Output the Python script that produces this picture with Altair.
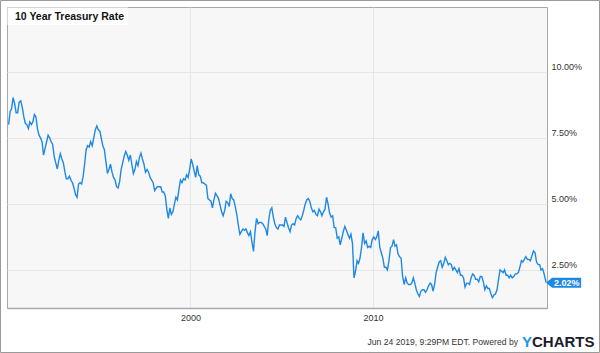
import altair as alt
import pandas as pd

# Monthly 10-year Treasury yields (%), Jan..Dec of each year
y1990 = [8.00, 8.50, 8.60, 9.02, 8.80, 8.45, 8.45, 8.85, 8.90, 8.65, 8.30, 8.05]
y1991 = [8.00, 7.85, 8.10, 8.00, 8.10, 8.38, 8.30, 7.85, 7.60, 7.50, 7.35, 6.85]
y1992 = [7.10, 7.35, 7.60, 7.50, 7.35, 7.25, 6.80, 6.55, 6.32, 6.65, 6.90, 6.70]
y1993 = [6.55, 6.20, 5.95, 5.95, 6.05, 5.90, 5.80, 5.60, 5.35, 5.25, 5.75, 5.80]
y1994 = [5.75, 6.05, 6.50, 7.05, 7.20, 7.15, 7.35, 7.20, 7.50, 7.80, 7.95, 7.80]
y1995 = [7.75, 7.45, 7.20, 7.05, 6.60, 6.15, 6.30, 6.50, 6.20, 6.00, 5.90, 5.65]
y1996 = [5.60, 5.85, 6.30, 6.55, 6.80, 6.98, 6.85, 6.65, 6.85, 6.50, 6.15, 6.30]
y1997 = [6.60, 6.45, 6.75, 6.92, 6.70, 6.50, 6.20, 6.30, 6.20, 6.00, 5.90, 5.80]
y1998 = [5.50, 5.60, 5.65, 5.65, 5.65, 5.45, 5.45, 5.30, 4.80, 4.45, 4.85, 4.60]
y1999 = [4.70, 5.00, 5.25, 5.15, 5.55, 5.90, 5.80, 5.95, 5.90, 6.10, 6.00, 6.30]
y2000 = [6.70, 6.50, 6.25, 6.00, 6.45, 6.10, 6.05, 5.80, 5.80, 5.75, 5.70, 5.20]
y2001 = [5.15, 5.10, 4.85, 5.15, 5.40, 5.30, 5.20, 4.95, 4.70, 4.55, 4.75, 5.10]
y2002 = [5.05, 4.90, 5.38, 5.20, 5.15, 4.90, 4.60, 4.20, 3.85, 3.95, 4.05, 4.00]
y2003 = [4.05, 3.90, 3.80, 3.95, 3.55, 3.20, 3.95, 4.45, 4.25, 4.30, 4.30, 4.25]
y2004 = [4.15, 4.05, 3.80, 4.40, 4.75, 4.85, 4.50, 4.25, 4.10, 4.05, 4.20, 4.20]
y2005 = [4.20, 4.15, 4.50, 4.30, 4.10, 3.95, 4.20, 4.25, 4.20, 4.45, 4.55, 4.45]
y2006 = [4.40, 4.55, 4.75, 5.00, 5.15, 5.20, 5.10, 4.85, 4.70, 4.75, 4.60, 4.55]
y2007 = [4.80, 4.70, 4.55, 4.70, 4.80, 5.25, 5.00, 4.65, 4.50, 4.55, 4.10, 4.10]
y2008 = [3.70, 3.75, 3.45, 3.70, 3.95, 4.15, 4.00, 3.85, 3.70, 3.85, 3.50, 2.20]
y2009 = [2.45, 2.85, 2.75, 2.95, 3.35, 3.90, 3.50, 3.60, 3.35, 3.40, 3.35, 3.65]
y2010 = [3.75, 3.65, 3.75, 3.98, 3.35, 3.15, 2.95, 2.60, 2.60, 2.50, 2.85, 3.35]
y2011 = [3.40, 3.65, 3.40, 3.45, 3.10, 3.00, 2.95, 2.25, 1.95, 2.20, 2.00, 1.95]
y2012 = [1.95, 2.00, 2.20, 2.00, 1.75, 1.60, 1.50, 1.70, 1.75, 1.75, 1.65, 1.75]
y2013 = [1.90, 2.00, 1.95, 1.70, 1.95, 2.40, 2.60, 2.80, 2.85, 2.60, 2.75, 2.98]
y2014 = [2.85, 2.70, 2.75, 2.70, 2.50, 2.60, 2.50, 2.40, 2.55, 2.30, 2.30, 2.20]
y2015 = [1.85, 2.00, 2.00, 1.95, 2.20, 2.35, 2.30, 2.15, 2.15, 2.05, 2.25, 2.25]
y2016 = [2.05, 1.75, 1.90, 1.80, 1.80, 1.60, 1.45, 1.55, 1.60, 1.75, 2.15, 2.50]
y2017 = [2.45, 2.40, 2.50, 2.30, 2.30, 2.20, 2.30, 2.20, 2.25, 2.35, 2.35, 2.40]
y2018 = [2.60, 2.85, 2.80, 2.90, 3.00, 2.90, 2.90, 2.85, 3.05, 3.22, 3.15, 2.80]
y2019 = [2.70, 2.70, 2.50, 2.55, 2.35]
last_date = "2019-06-24"
last_value = 2.02

years = list(range(1990, 2020))
series = [y1990, y1991, y1992, y1993, y1994, y1995, y1996, y1997, y1998, y1999,
          y2000, y2001, y2002, y2003, y2004, y2005, y2006, y2007, y2008, y2009,
          y2010, y2011, y2012, y2013, y2014, y2015, y2016, y2017, y2018, y2019]

dates, values = [], []
for yr, arr in zip(years, series):
    for m, v in enumerate(arr):
        dates.append(f"{yr}-{m + 1:02d}-15")
        values.append(v)
dates.append(last_date)
values.append(last_value)

df = pd.DataFrame({"date": dates, "rate": values})
last_df = pd.DataFrame({"date": [last_date], "rate": [last_value],
                        "label": [f"{last_value:.2f}%"]})

y_ticks = [2.5, 5.0, 7.5, 10.0]
x_domain = ["1989-12-14", "2019-07-12"]
y_domain = [1.06, 12.45]

FONT = "Arial, Liberation Sans, Helvetica, sans-serif"
BLUE = "#1e88e5"

W, H = 540, 301
PAD = {"left": 7, "top": 7, "right": 53, "bottom": 45}

x_enc = alt.X("date:T", scale=alt.Scale(domain=x_domain),
              axis=alt.Axis(values=[alt.DateTime(year=2000, month=1, date=1),
                                    alt.DateTime(year=2010, month=1, date=1)],
                            format="%Y", title=None, ticks=False,
                            labelPadding=5, labelFontSize=9, labelColor="#333",
                            labelFont=FONT, domainColor="#a8a8a8", domainWidth=1.5,
                            grid=True, gridColor="#e6e6e6"))
y_enc = alt.Y("rate:Q", scale=alt.Scale(domain=y_domain, nice=False, zero=False),
              axis=alt.Axis(orient="right", values=y_ticks, title=None,
                            labelExpr="format(datum.value, '.2f') + '%'",
                            ticks=False, domain=False, labelPadding=4,
                            labelFontSize=9, labelColor="#333", labelFont=FONT,
                            labelBaseline="bottom", grid=True, gridColor="#e6e6e6"))

line = alt.Chart(df).mark_line(color=BLUE, strokeWidth=1.4).encode(x=x_enc, y=y_enc)

tag = alt.Chart(last_df).mark_point(
    shape="M0,0 L6,-5 L35,-5 L35,5 L6,5 Z", size=4, filled=True,
    fill=BLUE, opacity=1, strokeWidth=0
).encode(x="date:T", y="rate:Q")

tag_text = alt.Chart(last_df).mark_text(
    align="left", baseline="middle", dx=8, dy=0.5, color="white",
    fontWeight="bold", fontSize=9, font=FONT
).encode(x="date:T", y="rate:Q", text="label:N")

one = pd.DataFrame({"a": [0]})

title_box = alt.Chart(one).mark_rect(fill="white").encode(
    x=alt.value(0.5), x2=alt.value(121), y=alt.value(0.5), y2=alt.value(18))
title_text = alt.Chart(one).mark_text(
    align="left", baseline="middle", fontWeight="bold", fontSize=10.5,
    font=FONT, color="#111"
).encode(x=alt.value(8), y=alt.value(9.5), text=alt.value("10 Year Treasury Rate"))

frame = alt.Chart(one).mark_rect(fill=None, stroke="#9a9a9a", strokeWidth=1).encode(
    x=alt.value(-PAD["left"] + 0.5), x2=alt.value(W + PAD["right"] - 0.5),
    y=alt.value(-PAD["top"] + 0.5), y2=alt.value(H + PAD["bottom"] - 0.5))

footer = alt.Chart(one).mark_text(
    align="right", baseline="alphabetic", fontSize=8.6, font=FONT, color="#333"
).encode(x=alt.value(511), y=alt.value(338),
         text=alt.value("Jun 24 2019, 9:29PM EDT.  Powered by"))
logo_y = alt.Chart(one).mark_text(
    align="left", baseline="alphabetic", fontSize=15, font=FONT,
    fontWeight="bold", color="#1a9ae6"
).encode(x=alt.value(515), y=alt.value(339.5), text=alt.value("Y"))
logo_rest = alt.Chart(one).mark_text(
    align="left", baseline="alphabetic", fontSize=15, font=FONT,
    fontWeight="bold", color="#1c1c2a"
).encode(x=alt.value(525), y=alt.value(339.5), text=alt.value("CHARTS"))

chart = alt.layer(
    line, tag, tag_text, title_box, title_text, frame, footer, logo_y, logo_rest
).properties(
    width=W, height=H, padding=PAD, autosize=alt.AutoSizeParams(type="none"),
    background="white"
).configure_view(
    fill="#f7f7f7", stroke="#a8a8a8", strokeWidth=1
)

chart.save("out.html", embed_options={"renderer": "svg", "actions": False})
